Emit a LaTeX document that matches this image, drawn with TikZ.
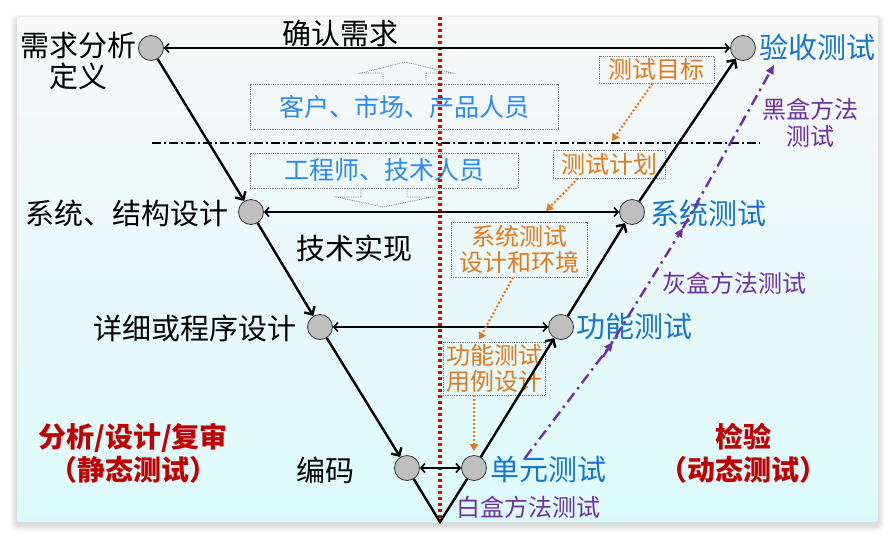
\documentclass[tikz,border=0pt]{standalone}
\usepackage{fontspec}
\setmainfont{Noto Sans CJK SC}
\usetikzlibrary{arrows.meta,positioning,calc}
\definecolor{vBlue}{HTML}{1476CC}
\definecolor{vSky}{HTML}{2A8AF0}
\definecolor{vOrange}{HTML}{E07A1C}
\definecolor{vPurple}{HTML}{7030A0}
\definecolor{vRed}{HTML}{C00000}
\definecolor{vDot}{HTML}{E00000}
\definecolor{panelTop}{HTML}{F8F8F8}
\definecolor{panelMid}{HTML}{F0F3F3}
\definecolor{panelBot}{HTML}{DCFAFD}

\begin{document}
\begin{tikzpicture}[x=1pt, y=-1pt,
    every node/.style={font=\fontsize{29}{31}\selectfont, inner sep=0pt},
    stage/.style={circle, draw=black!80, fill=black!25, line width=0.8pt, minimum size=25pt},
    dark/.style={text=black},
    blue/.style={text=vBlue},
    probeText/.style={text=vPurple, font=\fontsize{24}{27}\selectfont, align=center},
    verdict/.style={text=vRed, font=\fontsize{28}{33}\selectfont\bfseries, align=center},
    bbox/.style={draw=black!50, densely dotted, line width=0.8pt, text=vSky,
                 font=\fontsize{25}{27}\selectfont},
    obox/.style={draw=black!50, densely dotted, line width=0.8pt, text=vOrange,
                 font=\fontsize{24}{26}\selectfont, align=center},
    flow/.style={line width=2.4pt, -{Straight Barb[length=6pt,width=12pt]}},
    link/.style={line width=1.6pt, {Straight Barb[length=4pt,width=9pt]}-{Straight Barb[length=4pt,width=9pt]}},
    hint/.style={vOrange, line width=2pt, dash pattern=on 2pt off 2pt, -{Triangle[length=7pt,width=8pt]}},
    probe/.style={vPurple, line width=2.4pt, dash pattern=on 11pt off 5pt on 2.5pt off 5pt,
                  -{Triangle[length=9pt,width=8pt]}},
  ]
  \useasboundingbox (0,0) rectangle (895,539);

  % panel with soft shadow
  \foreach \g in {1,...,6}
    \fill[black, opacity=0.025, rounded corners=6pt] (17-\g,20-\g) rectangle (878+\g,525+\g);
  \shade[top color=panelTop, middle color=panelMid, bottom color=panelBot, rounded corners=3pt]
    (17,17) rectangle (878,522);

  % stages of the V
  \node[stage] (req)  at (151,48)  {};
  \node[stage] (acc)  at (743,48)  {};
  \node[stage] (sys)  at (251,212) {};
  \node[stage] (syst) at (632,212) {};
  \node[stage] (det)  at (320,327) {};
  \node[stage] (func) at (561,327) {};
  \node[stage] (code) at (407,468) {};
  \node[stage] (unit) at (474,468) {};
  \coordinate (tip) at (440,522);
  \coordinate (top) at (440,17);

  % divider
  \draw[line width=1.6pt, dash pattern=on 9pt off 3pt on 2pt off 3pt] (152,143) -- (760,143);

  % stage labels
  \node[dark, align=center] (reqL) at (78,61) {需求分析\\定义};
  \node[dark] (confirm) at (340,33) {确认需求};
  \node[blue] (accL) at (817,47) {验收测试};
  \node[dark] (sysL) at (127,213) {系统、结构设计};
  \node[blue] (systL) at (708,213) {系统测试};
  \node[dark] (techL) at (354,248) {技术实现};
  \node[dark] (detL) at (195,328) {详细或程序设计};
  \node[blue] (funcL) at (634,326) {功能测试};
  \node[dark] (codeL) at (325,470) {编码};
  \node[blue] (unitL) at (548,470) {单元测试};
  \node[probeText] (blackL) at (810,123) {黑盒方法\\测试};
  \node[probeText] (grayL) at (734,283) {灰盒方法测试};
  \node[probeText] (whiteL) at (528,507) {白盒方法测试};
  \node[verdict] (staticL) at (133,453) {分析/设计/复审\\（静态测试）};
  \node[verdict] (dynL) at (743,453) {检验\\（动态测试）};

  % people boxes
  \node[bbox, minimum width=308pt, minimum height=45pt] (crowd) at (404,106.5) {客户、市场、产品人员};
  \node[bbox, minimum width=268pt, minimum height=35pt] (staff) at (384,170.5) {工程师、技术人员};
  \draw[black!50, densely dotted, line width=0.8pt]
    (383,84) -- (383,73) -- (361,73) -- (405,62) -- (452,73) -- (426,73) -- (426,84);
  \draw[black!50, densely dotted, line width=0.8pt]
    (361,188) -- (361,197) -- (337,197) -- (383,207) -- (432,197) -- (407,197) -- (407,188);

  % centre line
  \draw[vDot, line width=3.2pt, dash pattern=on 3pt off 3pt] (top) -- (tip);

  % test planning boxes
  \node[obox, minimum width=115pt, minimum height=27pt] (goal) at (656.5,69.5) {测试目标};
  \node[obox, minimum width=112pt, minimum height=28pt] (plan) at (609,164) {测试计划};
  \node[obox, minimum width=136pt, minimum height=55pt] (env) at (519,249.5) {系统测试\\设计和环境};
  \node[obox, minimum width=102pt, minimum height=53pt] (case) at (494,368.5) {功能测试\\用例设计};

  % V connectors
  \draw[link] (req) -- (acc);
  \draw[link] (sys) -- (syst);
  \draw[link] (det) -- (func);
  \draw[link] (code) -- (unit);
  \draw[flow] (req) -- (sys);
  \draw[flow] (sys) -- (det);
  \draw[flow] (det) -- (code);
  \draw[line width=2.4pt] (code) -- (tip) -- (unit);
  \draw[flow] (unit) -- (func);
  \draw[flow] (func) -- (syst);
  \draw[flow] (syst) -- (acc);

  % planning hints
  \coordinate (goalEnd) at (612,141);
  \coordinate (planEnd) at (546,211);
  \draw[hint] ($(goal.south)+(-4,0)$) -- (goalEnd);
  \draw[hint] ($(plan.south)+(-31,0)$) -- (planEnd);
  \draw[hint] ($(env.south)+(-6,0)$) -- ($(case.north)+(-15,-2)$);
  \draw[hint, shorten >=4pt] (case.south -| unit) -- (unit.north);

  % box testing probes
  \coordinate (wStart) at (525,458);
  \coordinate (wEnd) at (613,342);
  \coordinate (gStart) at (603,357);
  \coordinate (gEnd) at (683,228);
  \coordinate (bEnd) at (774,65);
  \draw[probe] (wStart) -- (wEnd);
  \draw[probe] (gStart) -- (gEnd);
  \draw[probe] (gEnd) -- (bEnd);
\end{tikzpicture}
\end{document}
